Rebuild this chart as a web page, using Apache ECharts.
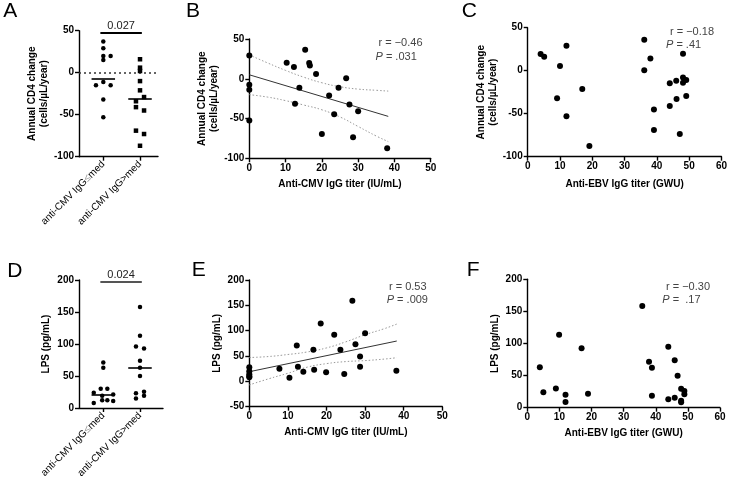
<!DOCTYPE html>
<html><head><meta charset="utf-8">
<script src="https://cdn.jsdelivr.net/npm/echarts@6/dist/echarts.min.js"></script>
<style>html,body{margin:0;padding:0;background:#fff}#c{width:730px;height:484px}</style>
</head><body><div id="c"></div>
<script>
// ---------- data ----------
const groupLabels = ['anti-CMV IgG≤med', 'anti-CMV IgG>med'];
const groupPos = [1, 2];
const pValues = ['0.027', '0.024'];
const bracketY = [47.6, 197];

// Panel A: annual CD4 change by CMV group (x = group position incl. spread)
const cd4LowX  = [1, 1, 1, 1.2, 1, 0.8, 1, 1.2, 1, 1];
const cd4LowY  = [37, 29, 20, 20, 15, -15, -11, -15, -32, -53];
const cd4HighX = [2, 2, 2, 2, 2, 2.11, 1.89, 1.89, 2.11, 1.89, 2.11, 2];
const cd4HighY = [16, 6, 2, -10, -21, -29, -34, -41, -45, -69, -73, -87];
const cd4Medians = [-7.5, -30.5];

// Panel D: LPS by CMV group
const lpsLowX  = [1, 1, 0.93, 1.11, 0.74, 0.97, 1.27, 0.97, 1.11, 0.74, 1.27];
const lpsLowY  = [71, 63, 30, 30, 24, 19, 21, 12, 12, 8, 11];
const lpsHighX = [2, 2, 1.89, 2.11, 2, 2, 2, 1.89, 2.11, 2.11, 1.89];
const lpsHighY = [158, 113, 96, 93, 74, 63, 50, 23, 25.5, 19, 15];
const lpsMedians = [21, 63];

// Panel B: CD4 change vs anti-CMV IgG
const cmvB = [0, 0, 0, 0, 10.3, 12.3, 12.6, 13.8, 15.4, 16.5, 16.7, 18.4, 20, 22, 23.4, 24.6, 26.7, 27.6, 28.6, 30, 38];
const cd4B = [29.4, -7.6, -13.9, -52.5, 20.2, 14.7, -31.5, -11.3, 36.5, 19.7, 16.8, 5.9, -69.3, -21, -44.5, -11.3, 0.8, -32.4, -73.5, -40.8, -87.4];
const fitB = [[0, 5], [38.3, -47.3]];
const bandBx = [0, 5, 10, 15, 20, 25, 30, 35, 38.3];
const bandBUpper = [30, 20, 10.5, 2, -5, -10, -13, -14.5, -15.5];
const bandBLower = [-20, -23, -27.5, -33, -39, -48, -60, -72, -79];

// Panel C: CD4 change vs anti-EBV IgG
const ebvC = [4, 5.1, 12, 10, 9.1, 12, 16.9, 19.1, 36.1, 36.1, 38, 39.1, 39.1, 44, 44, 46, 46.1, 47.1, 48.1, 48.1, 48.1, 49.1, 49.1];
const cd4C = [19.4, 16.3, 29, 5.4, -32, -53, -21.3, -87.6, 36, 0.4, 14.3, -45, -69, -14.7, -41, -11.6, -33, -73.6, 19.8, -7.8, -14, -10.9, -29.5];

// Panel E: LPS vs anti-CMV IgG
const cmvE = [0, 0, 0, 0, 0, 7.8, 10.4, 12.3, 12.6, 14, 16.6, 16.8, 18.5, 19.9, 22, 23.6, 24.6, 26.7, 27.5, 28.7, 28.7, 30, 38.1];
const lpsE = [28, 20, 14, 10, 8, 25, 7, 71, 29, 19, 62.5, 23, 114, 18, 92, 62.5, 14.5, 159, 73, 49, 29, 95, 21];
const fitE = [[0, 19], [38.2, 79.6]];
const bandEx = [0, 5, 10, 15, 20, 25, 30, 35, 38.2];
const bandEUpper = [47, 49, 53, 58, 66, 78, 92, 104, 113];
const bandELower = [-7, 5, 16, 28, 35, 39, 41, 44, 46.7];

// Panel F: LPS vs anti-EBV IgG
const ebvF = [3.9, 5, 8.9, 9.9, 11.9, 11.9, 16.9, 18.9, 35.8, 37.9, 38.8, 38.8, 43.9, 43.9, 45.9, 45.9, 46.8, 47.9, 47.9, 47.9, 48.9, 48.9];
const lpsF = [62.9, 23.9, 30.1, 113.8, 20.3, 8.8, 92.5, 21.8, 158.4, 71.7, 62.3, 18.7, 95, 13, 73.8, 15.6, 49.9, 29.6, 10.9, 8.3, 26, 20.8];

const statsText = [
  ['r = \u22120.46', '{i|P} = .031'],
  ['r = \u22120.18', '{i|P} = .41'],
  ['r = 0.53', '{i|P} = .009'],
  ['r = \u22120.30', '{i|P} =  .17']
];
const panelLetters = ['A', 'B', 'C', 'D', 'E', 'F'];

// ---------- build ----------
const FONT = '"Liberation Sans", Arial, Helvetica, sans-serif';
const zip = (a, b) => a.map((v, i) => [v, b[i]]);

const grids = [
  {left: 79, top: 30.7, width: 79, height: 126},
  {left: 249.3, top: 39, width: 181.4, height: 119.3},
  {left: 527.7, top: 27.7, width: 195, height: 129},
  {left: 79, top: 280, width: 84, height: 128},
  {left: 249.3, top: 280, width: 193, height: 126.7},
  {left: 527.3, top: 279.3, width: 192.7, height: 128.4}
];

const axisCommon = {
  axisLine: {show: true, onZero: false, lineStyle: {color: '#000', width: 1.4}},
  axisTick: {show: true, length: 4, lineStyle: {color: '#000', width: 1.4}},
  axisLabel: {color: '#000', fontSize: 10, fontWeight: 'bold', fontFamily: FONT, margin: 5},
  splitLine: {show: false},
  nameTextStyle: {color: '#000', fontSize: 10, fontWeight: 'bold', fontFamily: FONT, lineHeight: 12}
};
function vAxis(gi, min, max, interval, name, gap, extra) {
  return Object.assign({type: 'value', gridIndex: gi, min, max, interval, name, nameLocation: 'middle', nameGap: gap}, JSON.parse(JSON.stringify(axisCommon)), extra || {});
}
function catAxis(gi, max) {
  const a = vAxis(gi, 0.338, max, null, '', 0);
  delete a.interval;
  a.axisTick.customValues = groupPos;
  a.axisLabel.customValues = groupPos;
  a.axisLabel.rotate = 45;
  a.axisLabel.fontWeight = 'normal';
  a.axisLabel.fontSize = 10;
  a.axisLabel.margin = 6;
  a.axisLabel.formatter = v => {
    const i = groupPos.indexOf(v);
    if (i < 0) return '';
    return groupLabels[i].replace('≤', '{g|≤}');
  };
  a.axisLabel.rich = {g: {color: '#999', fontSize: 10, fontFamily: FONT}};
  return a;
}

const xAxes = [
  catAxis(0, 2.49),
  vAxis(1, 0, 50, 10, 'Anti-CMV IgG titer (IU/mL)', 20),
  vAxis(2, 0, 60, 10, 'Anti-EBV IgG titer (GWU)', 22),
  catAxis(3, 2.627),
  vAxis(4, 0, 50, 10, 'Anti-CMV IgG titer (IU/mL)', 20),
  vAxis(5, 0, 60, 10, 'Anti-EBV IgG titer (GWU)', 20)
];
const cd4Name = 'Annual CD4 change\n(cells/µL/year)';
const yAxes = [
  vAxis(0, -100, 50, 50, cd4Name, 26),
  vAxis(1, -100, 50, 50, cd4Name, 25),
  vAxis(2, -100, 50, 50, cd4Name, 28.5),
  vAxis(3, 0, 200, 50, 'LPS (pg/mL)', 26.5),
  vAxis(4, -50, 200, 50, 'LPS (pg/mL)', 23),
  vAxis(5, 0, 200, 50, 'LPS (pg/mL)', 24.5)
];

const MED_HALF = 0.32;
function groupMarkLines(medians, by, pv, zero, bracketColor) {
  const data = medians.map((m, i) => [
    {coord: [groupPos[i] - MED_HALF, m], lineStyle: {color: '#000', width: 1.6, type: 'solid'}, label: {show: false}},
    {coord: [groupPos[i] + MED_HALF, m]}
  ]);
  data.push([
    {coord: [0.92, by], lineStyle: {color: bracketColor, width: 1.8, type: 'solid'},
     label: {show: true, formatter: pv, position: 'middle', distance: 1, color: '#222', fontSize: 11, fontFamily: FONT}},
    {coord: [2.05, by]}
  ]);
  if (zero) data.push({yAxis: 0, lineStyle: {color: '#333', width: 1.5, type: [2, 3]}, label: {show: false}});
  return {silent: true, symbol: ['none', 'none'], animation: false, data};
}

const scat = (gi, data, size, symbol) => ({
  type: 'scatter', xAxisIndex: gi, yAxisIndex: gi, data, symbol: symbol || 'circle', symbolSize: size,
  itemStyle: {color: '#000', opacity: 1}, z: 5, silent: true
});
const line = (gi, data, style, smooth) => ({
  type: 'line', xAxisIndex: gi, yAxisIndex: gi, data, symbol: 'none', smooth: !!smooth,
  lineStyle: style, z: 3, silent: true
});
const bandStyle = {color: '#9a9a9a', width: 1, type: [1.5, 2]};
const fitStyle = {color: '#333', width: 1};

const series = [
  Object.assign(scat(0, zip(cd4LowX, cd4LowY), 4.5), {markLine: groupMarkLines(cd4Medians, bracketY[0], pValues[0], true, '#000')}),
  scat(0, zip(cd4HighX, cd4HighY), 4.5, 'rect'),
  scat(1, zip(cmvB, cd4B), 6),
  line(1, fitB, fitStyle),
  line(1, zip(bandBx, bandBUpper), bandStyle, true),
  line(1, zip(bandBx, bandBLower), bandStyle, true),
  scat(2, zip(ebvC, cd4C), 6),
  Object.assign(scat(3, zip(lpsLowX, lpsLowY), 4.5), {markLine: groupMarkLines(lpsMedians, bracketY[1], pValues[1], false, '#555')}),
  scat(3, zip(lpsHighX, lpsHighY), 4.5),
  scat(4, zip(cmvE, lpsE), 6),
  line(4, fitE, fitStyle),
  line(4, zip(bandEx, bandEUpper), bandStyle, true),
  line(4, zip(bandEx, bandELower), bandStyle, true),
  scat(5, zip(ebvF, lpsF), 6)
];

const letterPos = [[3.3, 11], [186, 11], [461.7, 11.7], [7.3, 271], [191.7, 270], [466.7, 270]];
const statPos = [[[378.5, 42.5], [375.5, 57]], [[670, 32], [666, 45]], [[389, 286.7], [386.7, 300]], [[666, 286.7], [662.3, 300]]];
const graphic = [];
panelLetters.forEach((t, i) => graphic.push({
  type: 'text', x: letterPos[i][0], y: letterPos[i][1], silent: true,
  style: {text: t, fill: '#000', font: '21px ' + FONT, textVerticalAlign: 'middle', textAlign: 'left'}
}));
statsText.forEach((pair, i) => pair.forEach((t, j) => graphic.push({
  type: 'text', x: statPos[i][j][0], y: statPos[i][j][1], silent: true,
  style: {text: t, fill: '#444', fontSize: 11, fontFamily: FONT, verticalAlign: 'middle', align: 'left',
          rich: {i: {fontStyle: 'italic', fill: '#444', fontSize: 11, fontFamily: FONT}}}
})));

const chart = echarts.init(document.getElementById('c'), null, {renderer: 'canvas'});
chart.setOption({
  animation: false,
  backgroundColor: '#fff',
  textStyle: {fontFamily: FONT},
  grid: grids,
  xAxis: xAxes,
  yAxis: yAxes,
  series,
  graphic
});
</script></body></html>
